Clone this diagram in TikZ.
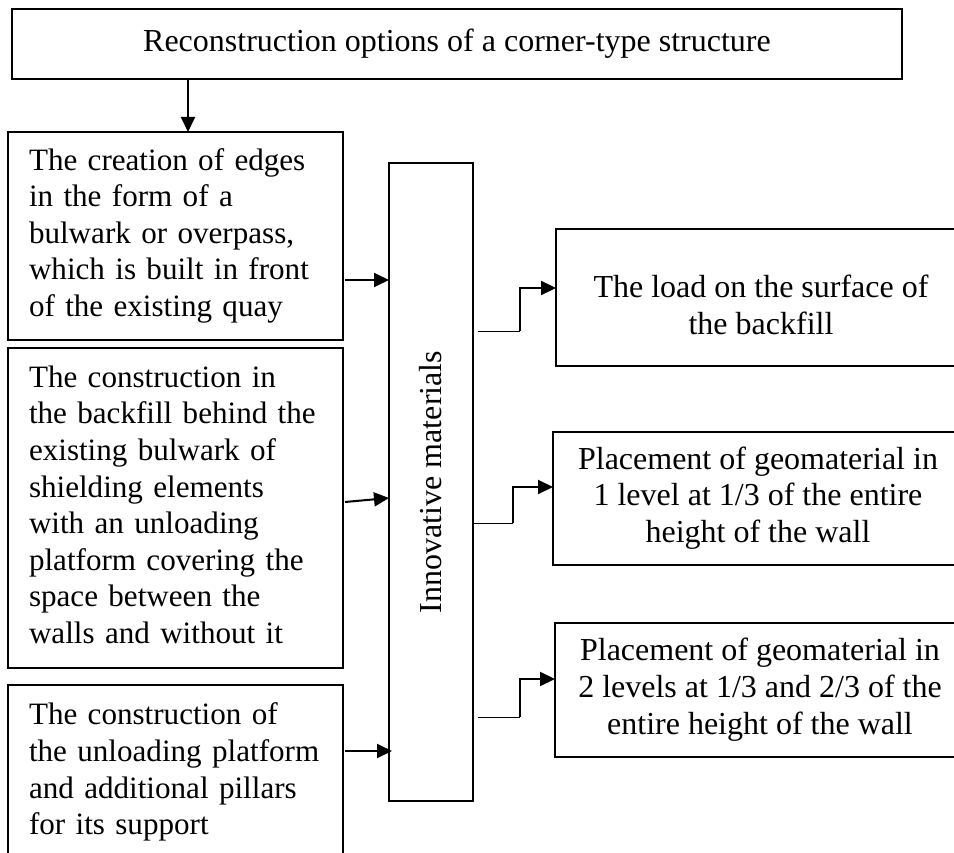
\documentclass[tikz,border=0pt]{standalone}
\usepackage{fontspec}
\setmainfont{Liberation Serif}
\usetikzlibrary{arrows.meta,calc}
\begin{document}
\begin{tikzpicture}[x=1pt,y=-1pt,
  box/.style={draw, line width=1.6pt, outer sep=0pt, inner sep=0pt, anchor=north west,
    font=\fontsize{32pt}{36.8pt}\selectfont},
  lbox/.style={box, minimum width=335pt, text width=293pt, inner xsep=21pt,
    font=\fontsize{31.1pt}{36.6pt}\selectfont},
  rbox/.style={box, minimum width=410pt},
  arr/.style={line width=2pt, -{Triangle[length=15pt,width=14pt]}},
  thinline/.style={line width=0.9pt}]
\useasboundingbox (0,0) rectangle (954,853);
\clip (0,0) rectangle (954,853);

\node[box, minimum width=890pt, minimum height=70pt] (top) at (12,9)
  {Reconstruction options of a corner-type structure};

\node[lbox, minimum height=208pt] (b1) at (8,132)
  {\begin{tabular}{@{}l@{}}The creation of edges\\in the form of a\\bulwark or overpass,\\which is built in front\\of the existing quay\end{tabular}};
\node[lbox, minimum height=320pt] (b2) at (8,348)
  {\begin{tabular}{@{}l@{}}The construction in\\the backfill behind the\\existing bulwark of\\shielding elements\\with an unloading\\platform covering the\\space between the\\walls and without it\end{tabular}};
\node[lbox, minimum height=175pt] (b3) at (8,685)
  {\begin{tabular}{@{}l@{}}The construction of\\the unloading platform\\and additional pillars\\for its support\end{tabular}};

\node[box, minimum width=84pt, minimum height=638pt] (mid) at (389,163)
  {\rotatebox{90}{Innovative materials}};

\node[rbox, minimum height=137pt] (ra) at (556,229)
  {\raisebox{-11pt}[\height][\depth]{\begin{tabular}{@{}c@{}}The load on the surface of\\the backfill\end{tabular}}};
\node[rbox, minimum height=133pt] (rb) at (553,432)
  {\begin{tabular}{@{}c@{}}Placement of geomaterial in\\1 level at 1/3 of the entire\\height of the wall\end{tabular}};
\node[rbox, minimum height=134pt] (rc) at (555,623)
  {\begin{tabular}{@{}c@{}}Placement of geomaterial in\\2 levels at 1/3 and 2/3 of the\\entire height of the wall\end{tabular}};

% top arrow
\coordinate (a0) at (188,0);
\draw[arr] (top.south -| a0) -- (b1.north -| a0);

% left arrows
\coordinate (y1) at (0,280);
\draw[arr] ($(b1.east |- y1)+(2,0)$) -- (mid.west |- y1);
\draw[arr] ($(b2.east)+(2,-6)$) -- ($(mid.west)+(0,16)$);
\coordinate (y3) at (0,751);
\draw[arr] ($(b3.east |- y3)+(2,0)$) -- ($(mid.west |- y3)+(3,0)$);

% right connectors
\coordinate (ka) at (520,331);
\coordinate (ja) at (520,288);
\draw[thinline] ($(mid.east |- ka)+(5,0)$) -- (ka);
\draw[arr] (ka) -- (ja) -- (ra.west |- ja);

\coordinate (kb) at (513,523);
\coordinate (jb) at (513,487);
\draw[thinline] (mid.east |- kb) -- (kb);
\draw[arr] (kb) -- (jb) -- (rb.west |- jb);

\coordinate (kc) at (520,717);
\coordinate (jc) at (520,679);
\draw[thinline] ($(mid.east |- kc)+(5,0)$) -- (kc);
\draw[arr] (kc) -- (jc) -- (rc.west |- jc);
\end{tikzpicture}
\end{document}
